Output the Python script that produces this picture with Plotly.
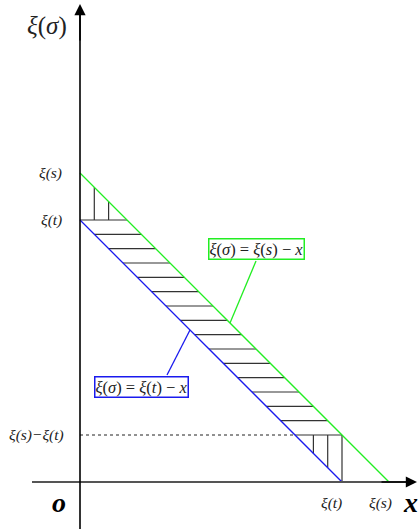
import plotly.graph_objects as go

# schematic values (abstract units)
xi_t = 262.0          # ξ(t)
xi_s = 309.0          # ξ(s)
delta = xi_s - xi_t   # ξ(s) - ξ(t)
n_hatch = 15          # number of hatch intervals between δ and ξ(t)
vert_hatch = [14.3, 28.6]  # offsets of vertical hatch lines in the corner triangles

y_tick_labels = ["ξ(s)", "ξ(t)", "ξ(s)−ξ(t)"]
x_tick_labels = ["ξ(t)", "ξ(s)"]

SERIF = "Liberation Serif"
GREEN = "#22ee22"
BLUE = "#1a1aee"
HATCH = "#333333"

fig = go.Figure()

def seg(x0, y0, x1, y1, color, width=1.0, dash=None):
    fig.add_trace(go.Scatter(x=[x0, x1], y=[y0, y1], mode="lines",
                             line=dict(color=color, width=width, dash=dash),
                             hoverinfo="skip", showlegend=False))

# horizontal hatch between the two lines
for k in range(n_hatch + 1):
    y = delta + k * (xi_t - delta) / n_hatch
    seg(xi_t - y, y, xi_s - y, y, HATCH, 1.2)

# vertical hatch in the top triangle
for dx in vert_hatch:
    seg(dx, xi_t, dx, xi_s - dx, HATCH, 1.2)
# vertical hatch in the bottom triangle
for dx in vert_hatch:
    x = xi_t - dx
    seg(x, xi_t - x, x, delta, HATCH, 1.2)
seg(xi_t, 0, xi_t, delta, HATCH, 1.2)

# dotted level ξ(s)-ξ(t)
seg(0, delta, xi_t - delta, delta, "#222222", 1.0, "dot")

# main lines
seg(0, xi_s, xi_s, 0, GREEN, 1.3)
seg(0, xi_t, xi_t, 0, BLUE, 1.3)

# leaders
seg(176, 221, 150, xi_s - 150, GREEN, 1.3)
seg(87, 107, 110, xi_t - 110, BLUE, 1.3)

# axes
seg(-48, 0, 334, 0, "#555555", 2)
seg(0, -47, 0, 474, "#000000", 1.6)

ann = []
# arrowheads
ann.append(dict(x=0, y=478, ax=0, ay=440, xref="x", yref="y", axref="x", ayref="y",
                showarrow=True, arrowhead=2, arrowsize=1.4, arrowwidth=1.6,
                arrowcolor="#000000", text=""))
ann.append(dict(x=337, y=0, ax=300, ay=0, xref="x", yref="y", axref="x", ayref="y",
                showarrow=True, arrowhead=2, arrowsize=1.4, arrowwidth=1.6,
                arrowcolor="#000000", text=""))

def label(x, y, text, size=15.5, xanchor="center", color="#222222"):
    ann.append(dict(x=x, y=y, xref="x", yref="y", text=text, showarrow=False,
                    xanchor=xanchor, yanchor="middle",
                    font=dict(family=SERIF, size=size, color=color)))

label(-33, 456, "<i>ξ</i>(<i>σ</i>)", size=25)
label(-16, xi_s, "<i>%s</i>" % y_tick_labels[0], xanchor="right")
label(-16, xi_t, "<i>%s</i>" % y_tick_labels[1], xanchor="right")
label(-14, delta, "<i>%s</i>" % y_tick_labels[2], xanchor="right")
label(xi_t - 11, -21, "<i>%s</i>" % x_tick_labels[0])
label(xi_s - 9, -21, "<i>%s</i>" % x_tick_labels[1])
label(-21, -20, "<b><i>o</i></b>", size=28, color="#000000")
label(330, -20, "<b><i>x</i></b>", size=28, color="#000000")

# boxed equations
ann.append(dict(x=176.5, y=233, xref="x", yref="y", showarrow=False,
                text="<i>ξ</i>(<i>σ</i>) = <i>ξ</i>(<i>s</i>) − <i>x</i>",
                font=dict(family=SERIF, size=16.5, color="#222222"),
                bordercolor=GREEN, borderwidth=1.5, borderpad=0, bgcolor="white"))
ann.append(dict(x=61.5, y=95, xref="x", yref="y", showarrow=False,
                text="<i>ξ</i>(<i>σ</i>) = <i>ξ</i>(<i>t</i>) − <i>x</i>",
                font=dict(family=SERIF, size=16.5, color="#222222"),
                bordercolor=BLUE, borderwidth=1.5, borderpad=0, bgcolor="white"))

fig.update_layout(
    width=418, height=529, margin=dict(l=0, r=0, t=0, b=0),
    paper_bgcolor="white", plot_bgcolor="white",
    font=dict(family=SERIF),
    xaxis=dict(range=[-80, 338], visible=False, fixedrange=True),
    yaxis=dict(range=[-47, 482], visible=False, fixedrange=True),
    annotations=ann, showlegend=False,
)

fig.write_html("out.html", config={"displayModeBar": False},
               post_script="document.body.style.margin='0';")
